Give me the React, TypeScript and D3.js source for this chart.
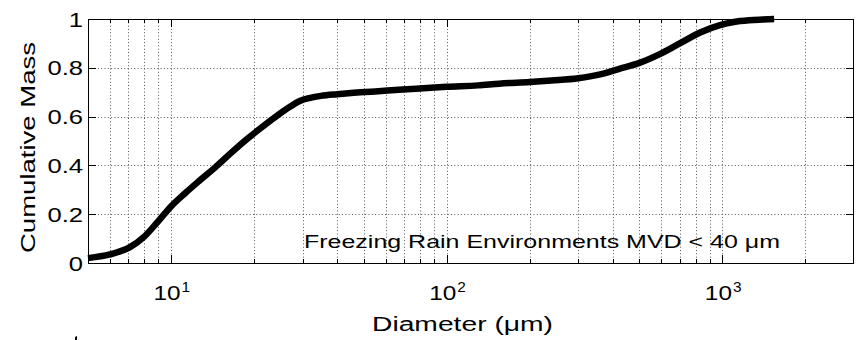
import React from "react";
import * as d3 from "d3";

const DIAMETERS = [5, 6, 7.1, 8, 9, 10, 11.3, 12.7, 14.5, 16.4, 18.5, 21, 24, 27, 29.3, 32, 35, 40, 45, 55, 67, 85, 100, 130, 155, 200, 240, 300, 360, 420, 500, 590, 700, 830, 980, 1100, 1250, 1400, 1540];
const CUM_MASS = [0.02, 0.035, 0.065, 0.108, 0.172, 0.232, 0.288, 0.338, 0.393, 0.448, 0.5, 0.55, 0.6, 0.64, 0.664, 0.677, 0.685, 0.692, 0.697, 0.703, 0.71, 0.717, 0.722, 0.728, 0.735, 0.742, 0.748, 0.757, 0.773, 0.795, 0.82, 0.855, 0.9, 0.945, 0.975, 0.988, 0.995, 0.998, 1.0];
const Y_TICKS = [0, 0.2, 0.4, 0.6, 0.8, 1];
const Y_TICK_LABELS = ["0", "0.2", "0.4", "0.6", "0.8", "1"];
const X_MAJOR = [10, 100, 1000];
const X_EXPONENTS = ["1", "2", "3"];
const X_DOMAIN = [5, 3000];
const ANNOTATION = "Freezing Rain Environments MVD < 40 \u03bcm";
const X_LABEL = "Diameter (\u03bcm)";
const Y_LABEL = "Cumulative Mass";

export default function App() {
  const L = 88, R = 854, T = 19, B = 263;
  const x = d3.scaleLog().domain(X_DOMAIN).range([L, R]);
  const y = d3.scaleLinear().domain([0, 1]).range([B, T]);

  const minor: number[] = [];
  for (let e = 0; e <= 3; e++) {
    for (let k = 1; k <= 9; k++) {
      const v = k * Math.pow(10, e);
      if (v > X_DOMAIN[0] && v < X_DOMAIN[1]) minor.push(v);
    }
  }
  const crisp = (v: number) => Math.round(v) + 0.5;

  const line = d3
    .line<number>()
    .x((_, i) => x(DIAMETERS[i]))
    .y((d) => y(d))
    .curve(d3.curveMonotoneX);

  const font = "'Liberation Sans', Arial, Helvetica, sans-serif";
  const sx = 1.22;

  return (
    <svg
      width={859}
      height={340}
      style={{ position: "absolute", left: 0, top: 0, background: "#fff" }}
      fontFamily={font}
    >
      <rect x={0} y={0} width={859} height={340} fill="#fff" />
      {/* grid */}
      {minor.map((v) => (
        <line key={"gx" + v} x1={crisp(x(v))} x2={crisp(x(v))} y1={T} y2={B} stroke="#555" strokeWidth={1} strokeDasharray="1 2.3" />
      ))}
      {Y_TICKS.filter((t) => t > 0 && t < 1).map((t) => (
        <line key={"gy" + t} x1={L} x2={R} y1={crisp(y(t))} y2={crisp(y(t))} stroke="#555" strokeWidth={1} strokeDasharray="1 2.3" />
      ))}
      {/* ticks */}
      {minor.map((v) => {
        const len = X_MAJOR.includes(v) ? 8 : 4;
        const xx = crisp(x(v));
        return (
          <g key={"tx" + v}>
            <line x1={xx} x2={xx} y1={B} y2={B - len} stroke="#000" />
            <line x1={xx} x2={xx} y1={T} y2={T + len} stroke="#000" />
          </g>
        );
      })}
      {Y_TICKS.map((t) => {
        const yy = crisp(y(t));
        return (
          <g key={"ty" + t}>
            <line x1={L} x2={L + 8} y1={yy} y2={yy} stroke="#000" />
            <line x1={R} x2={R - 8} y1={yy} y2={yy} stroke="#000" />
          </g>
        );
      })}
      {/* box */}
      <rect x={L + 0.5} y={T + 0.5} width={R - L - 1} height={B - T} fill="none" stroke="#000" strokeWidth={1} />
      {/* curve */}
      <path d={line(CUM_MASS) || ""} fill="none" stroke="#000" strokeWidth={6.5} strokeLinejoin="round" strokeLinecap="butt" />
      {/* annotation */}
      <text x={304} y={248} fontSize={19} fill="#000" textLength={476} lengthAdjust="spacingAndGlyphs">
        {ANNOTATION}
      </text>
      {/* y tick labels */}
      {Y_TICKS.map((t, i) => (
        <text key={"yl" + t} transform={`translate(83,${y(t) + 7.5}) scale(${sx},1)`} fontSize={21} textAnchor="end" fill="#000">
          {Y_TICK_LABELS[i]}
        </text>
      ))}
      {/* x tick labels */}
      {X_MAJOR.map((v, i) => (
        <g key={"xl" + v}>
          <text transform={`translate(${x(v) + 9.5},300) scale(1.16,1)`} fontSize={21} textAnchor="end" fill="#000">
            10
          </text>
          <text transform={`translate(${x(v) + 10.5},292) scale(1.1,1)`} fontSize={14} fill="#000">
            {X_EXPONENTS[i]}
          </text>
        </g>
      ))}
      {/* axis labels */}
      <text x={372} y={331} fontSize={19.5} fill="#000" textLength={181} lengthAdjust="spacingAndGlyphs">
        {X_LABEL}
      </text>
      <text
        transform={`translate(35,${147.5}) rotate(-90)`}
        fontSize={21}
        textAnchor="middle"
        fill="#000"
        textLength={211}
        lengthAdjust="spacingAndGlyphs"
      >
        {Y_LABEL}
      </text>
      {/* small stray mark at the bottom edge */}
      <path d="M75,337 l2,-1 l0,4 l-2,0 z" fill="#000" />
    </svg>
  );
}
